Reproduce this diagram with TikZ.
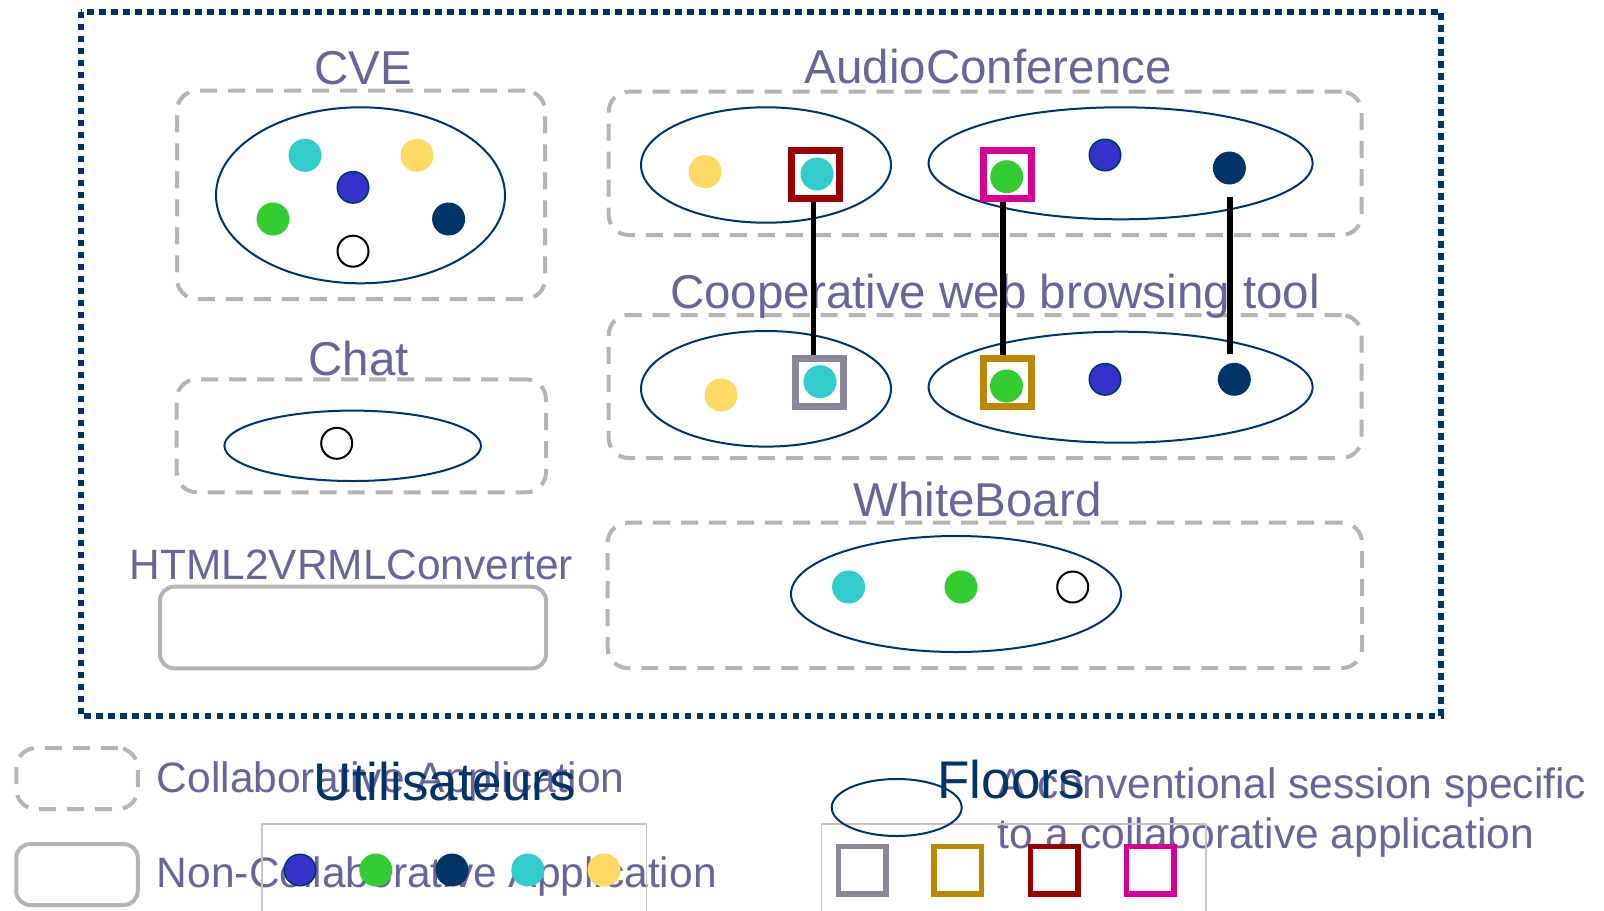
\documentclass[tikz,border=0pt]{standalone}
\usepackage{fontspec}
\setmainfont{Liberation Sans}
\usetikzlibrary{shapes.geometric,calc}

\definecolor{titlepurple}{HTML}{666699}
\definecolor{navy}{HTML}{003366}
\definecolor{dashgrey}{HTML}{B4B4B4}
\definecolor{legendgrey}{HTML}{C4C4C4}
\definecolor{cyanD}{HTML}{33CCCC}
\definecolor{yellowD}{HTML}{FFD966}
\definecolor{greenD}{HTML}{33CC33}
\definecolor{blueD}{HTML}{3333CC}
\definecolor{redF}{HTML}{990000}
\definecolor{magentaF}{HTML}{D80094}
\definecolor{goldF}{HTML}{BB8800}
\definecolor{greyF}{HTML}{888899}

\tikzset{
  title/.style={text=titlepurple, font=\fontsize{23.75pt}{28pt}\selectfont, inner sep=0pt, anchor=base},
  legtext/.style={text=titlepurple, font=\fontsize{21.25pt}{25pt}\selectfont, inner sep=0pt, anchor=base west},
  legtitle/.style={text=navy, font=\fontsize{26.5pt}{30pt}\selectfont, inner sep=0pt, anchor=base},
  collab/.style={draw=dashgrey, line width=2pt, dash pattern=on 8.5pt off 5.5pt, rounded corners=10pt, inner sep=0pt},
  noncollab/.style={draw=dashgrey, line width=2pt, rounded corners=7pt, inner sep=0pt},
  legendbox/.style={draw=legendgrey, line width=0.9pt, inner sep=0pt},
  floor/.style={ellipse, draw=navy, line width=1pt, inner sep=0pt},
  user/.style={circle, inner sep=0pt, minimum size=16.5pt},
  ucyan/.style={user, fill=cyanD},
  uyellow/.style={user, fill=yellowD},
  ugreen/.style={user, fill=greenD},
  ublue/.style={user, fill=blueD, draw=navy, line width=0.8pt, minimum size=15.7pt},
  unavy/.style={user, fill=navy},
  uwhite/.style={user, fill=white, draw=black, line width=1pt, minimum size=15.5pt},
  floorsq/.style={rectangle, inner sep=0pt, minimum size=24pt, line width=3.25pt},
  legsq/.style={rectangle, inner sep=0pt, minimum size=23.75pt, line width=2.75pt},
  link/.style={draw=black, line width=2.6pt},
  border/.style={draw=navy, line width=3pt, dash pattern=on 3.3pt off 2.7pt}
}

\begin{document}
\begin{tikzpicture}[x=0.5pt, y=-0.5pt]
\useasboundingbox (0,0) rectangle (1604,910);

% global frame
\path[border] (80.5,11.5) rectangle (1441,715.5);

% application boxes
\node[collab, minimum width=184pt, minimum height=104.15pt] (cvebox) at (361,194.85) {};
\node[collab, minimum width=376.4pt, minimum height=71.65pt] (acbox) at (985.1,163.35) {};
\node[collab, minimum width=376.4pt, minimum height=71.5pt] (cwbbox) at (985.1,386.5) {};
\node[collab, minimum width=184.65pt, minimum height=56.5pt] (chatbox) at (361.35,435.8) {};
\node[noncollab, minimum width=193pt, minimum height=40.8pt] (htmlbox) at (353,627.5) {};
\node[collab, minimum width=377.15pt, minimum height=72.65pt] (wbbox) at (984.85,595.35) {};

% application names
\node[title] (tcve) at (363.5,84) {CVE};
\node[title] (tac) at (988.3,83.5) {AudioConference};
\node[title] (tcwb) at (995,308) {Cooperative web browsing tool};
\node[title] (tchat) at (358.5,375.5) {Chat};
\node[title, font=\fontsize{21.2pt}{25pt}\selectfont] (thtml) at (351.3,579.5) {HTML2VRMLConverter};
\node[title] (twb) at (977.5,516) {WhiteBoard};

% sessions (floors)
\node[floor, minimum width=144.5pt, minimum height=88pt] (fcve) at (360.5,195.3) {};
\node[floor, minimum width=125pt, minimum height=57.7pt] (facl) at (766,165) {};
\node[floor, minimum width=192pt, minimum height=56pt] (facr) at (1120.6,163.3) {};
\node[floor, minimum width=125pt, minimum height=57.8pt] (fcwbl) at (766,388.8) {};
\node[floor, minimum width=192pt, minimum height=55.5pt] (fcwbr) at (1120.6,387.2) {};
\node[floor, minimum width=128.3pt, minimum height=35.2pt] (fchat) at (352.7,445.8) {};
\node[floor, minimum width=165pt, minimum height=58pt] (fwb) at (956,594) {};

% floor control squares
\node[floorsq, draw=redF] (sqred) at (815.3,174.3) {};
\node[floorsq, draw=magentaF] (sqmag) at (1007.4,174.3) {};
\node[floorsq, draw=greyF] (sqgrey) at (819.6,382.5) {};
\node[floorsq, draw=goldF] (sqgold) at (1007.4,382.5) {};

% users in CVE
\node[ucyan] (cveC) at (305,155.3) {};
\node[uyellow] (cveY) at (417,155.3) {};
\node[ublue] (cveB) at (353,187.3) {};
\node[ugreen] (cveG) at (273,219) {};
\node[unavy] (cveN) at (448.6,219) {};
\node[uwhite] (cveW) at (353,251.2) {};

% users in AudioConference
\node[uyellow] (acY) at (705,171.7) {};
\node[ucyan] (acC) at (817,174) {};
\node[ugreen] (acG) at (1006.7,176.7) {};
\node[ublue] (acB) at (1105,155) {};
\node[unavy] (acN) at (1229.4,168) {};

% users in the cooperative web browsing tool
\node[uyellow] (cwY) at (721,395) {};
\node[ucyan] (cwC) at (820,381.7) {};
\node[ugreen] (cwG) at (1006.5,386) {};
\node[ublue] (cwB) at (1105,379.3) {};
\node[unavy] (cwN) at (1234.3,379.3) {};

% users in Chat and WhiteBoard
\node[uwhite] (chW) at (336.7,443.3) {};
\node[ucyan] (wbC) at (848.6,587) {};
\node[ugreen] (wbG) at (961,587) {};
\node[uwhite] (wbW) at (1072.7,587) {};

% vertical links between sessions
\coordinate (l1start) at ($(sqred.south)+(-2,0)$);
\coordinate (l1end) at (l1start |- sqgrey.north);
\draw[link] (l1start) -- (l1end);
\coordinate (l2start) at ($(sqmag.south)+(-4.5,0)$);
\coordinate (l2end) at (l2start |- sqgold.north);
\draw[link] (l2start) -- (l2end);
\coordinate (nstart) at ($(acN.south)+(0.6,12)$);
\coordinate (nend) at ($(nstart |- cwN.north)+(0,-8)$);
\draw[link] (nstart) -- (nend);

% legend: application kinds
\node[collab, minimum width=60.75pt, minimum height=30.5pt] (lcollab) at (77,778.5) {};
\node[noncollab, minimum width=60.75pt, minimum height=30.5pt] (lnoncollab) at (77,874.5) {};
\node[legtext] (lcollabtxt) at (156.5,792) {Collaborative Application};
\node[legtext] (lnoncollabtxt) at (156.5,887.5) {Non-Collaborative Application};

% legend: users
\node[legendbox, minimum width=192.35pt, minimum height=53pt] (lusers) at (454.05,877) {};
\node[legtitle] (tusers) at (445,800) {Utilisateurs};
\node[ublue] (lB) at (300,870) {};
\node[ugreen] (lG) at (375.8,870) {};
\node[unavy] (lN) at (452,870) {};
\node[ucyan] (lC) at (527.8,870) {};
\node[uyellow] (lY) at (604,870) {};

% legend: floors
\node[legtext] (lconv1) at (997.4,798.3) {A conventional session specific};
\node[legtext] (lconv2) at (997.4,848.3) {to a collaborative application};
\node[legendbox, minimum width=192.25pt, minimum height=53pt] (lfloors) at (1013.75,877) {};
\node[floor, minimum width=65pt, minimum height=28.5pt] (lfloor) at (896.7,807.5) {};
\node[legtitle] (tfloors) at (1011,798) {Floors};
\node[legsq, draw=greyF] (lsq1) at (862,870.3) {};
\node[legsq, draw=goldF] (lsq2) at (957.7,870.3) {};
\node[legsq, draw=redF] (lsq3) at (1054,870.3) {};
\node[legsq, draw=magentaF] (lsq4) at (1150,870.3) {};
\end{tikzpicture}
\end{document}
